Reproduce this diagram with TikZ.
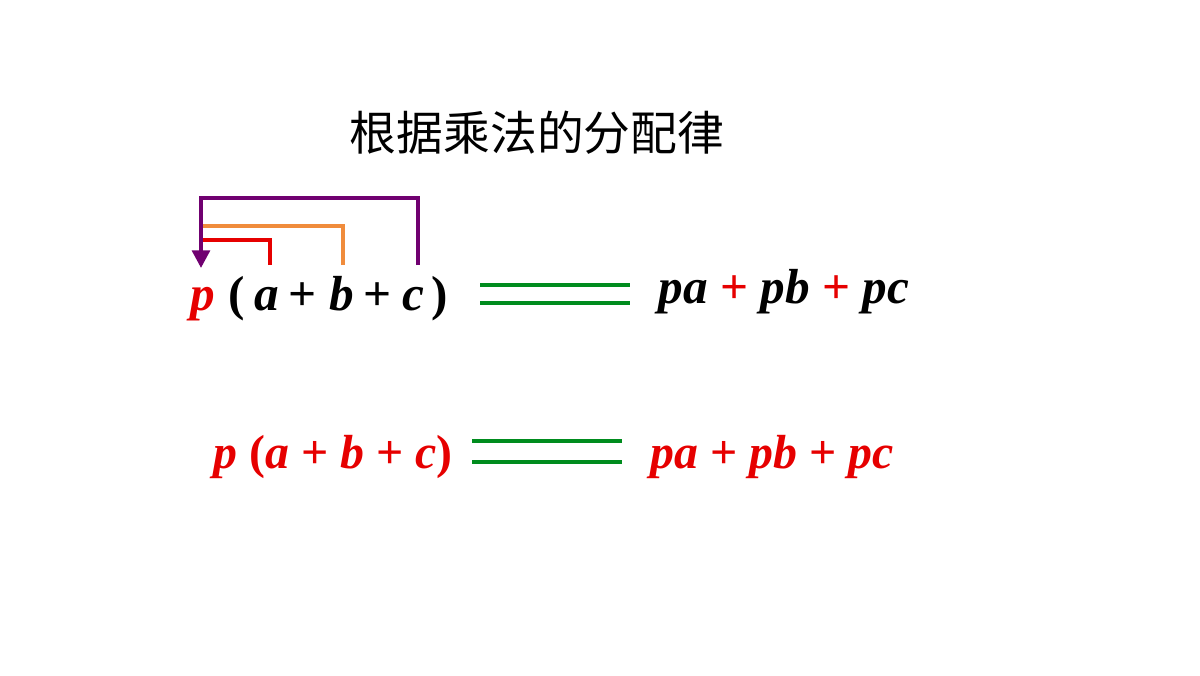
\documentclass[tikz,border=0pt]{standalone}
\usepackage{fontspec}
\setmainfont{Liberation Serif}
\newfontfamily\cjk{Noto Sans CJK SC}
\usetikzlibrary{arrows.meta}
\definecolor{pur}{RGB}{112,0,112}
\definecolor{org}{RGB}{240,140,60}
\definecolor{rd}{RGB}{230,0,0}
\definecolor{gr}{RGB}{0,140,30}
\newcommand{\up}[1]{\textup{#1}}
\begin{document}
\begin{tikzpicture}[x=0.01cm,y=-0.01cm,
  m/.style={inner sep=0,anchor=base,font=\fontsize{14pt}{16pt}\selectfont\bfseries\itshape},
  m2/.style={m,font=\fontsize{13.6pt}{16pt}\selectfont\bfseries\itshape},
  br/.style={line width=1.1pt,line cap=butt}]
\useasboundingbox (0,0) rectangle (1200,675);
\node[inner sep=0,font=\fontsize{13.3pt}{15pt}\selectfont\cjk] (t) at (537,133) {根据乘法的分配律};
% row 1
\node[m,text=rd] (p) at (203,310) {p};
\node[m] (lp) at (237,310) {\up{(}};
\node[m] (a) at (267,310) {a};
\node[m] (pl1) at (303,310) {\up{+}};
\node[m] (b) at (342,310) {b};
\node[m] (pl2) at (378,310) {\up{+}};
\node[m] (c) at (413,310) {c};
\node[m] (rp) at (440,310) {\up{)}};
\coordinate (ar) at (270,265); \coordinate (br2) at (343,265); \coordinate (cr) at (418,265);
\coordinate (pt) at (201,268);
\draw[br,rd] (ar) |- (201,240);
\draw[br,org] (br2) |- (201,226);
\draw[br,pur,-{Triangle[length=5pt,width=5pt]}] (cr) |- (201,198) -- (pt);
\draw[br,gr] (480,285) -- (630,285) (480,303) -- (630,303);
\node[m,anchor=base west] (r1) at (658,303) {pa \textcolor{rd}{\up{+}} pb \textcolor{rd}{\up{+}} pc};
% row 2
\node[m2,anchor=base west,text=rd] (l2) at (213,468) {p \up{(}a \up{+} b \up{+} c\up{)}};
\draw[br,gr] (472,441) -- (622,441) (472,462) -- (622,462);
\node[m2,anchor=base west,text=rd] (r2) at (650,468) {pa \up{+} pb \up{+} pc};
\end{tikzpicture}
\end{document}
